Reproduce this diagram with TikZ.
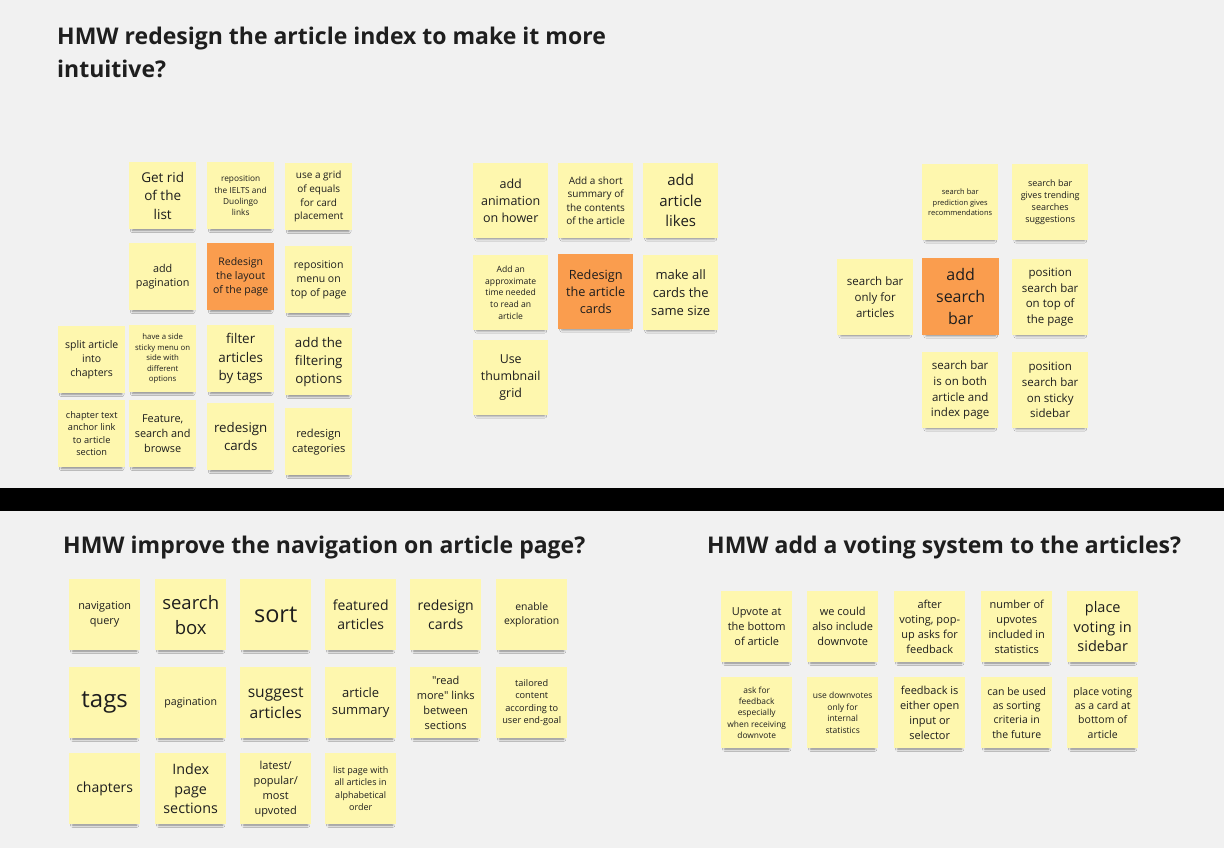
\documentclass[tikz,border=0pt]{standalone}
\usepackage{fontspec}
\setmainfont{Open Sans}[Ligatures=TeXOff]
\usetikzlibrary{shadows,shadows.blur}
\definecolor{bg}{HTML}{F1F1F1}
\definecolor{ny}{HTML}{FEF7AE}
\definecolor{no}{HTML}{FA9D4E}
\definecolor{ink}{HTML}{1E1E1E}
\tikzset{
  note/.style={anchor=north west, fill=ny, minimum width=#1, minimum height=#1,
    inner sep=1pt, align=center, text=ink,
    blur shadow={shadow xshift=0pt, shadow yshift=-5pt, shadow scale=0.9,
      shadow opacity=45, shadow blur radius=2.5pt}},
  hot/.style={fill=no},
  fz/.style={font=\fontsize{#1}{\fpeval{#1*1.36}}\selectfont},
  title/.style={text=ink, inner sep=0pt, font=\fontsize{23}{33}\selectfont\bfseries}
}
\begin{document}
\begin{tikzpicture}[x=1pt,y=-1pt]
\fill[bg] (0,0) rectangle (1224,848);
\useasboundingbox (0,0) rectangle (1224,848);
\fill[black] (0,488) rectangle (1224,511);

% titles
\node[title, anchor=north west, align=left] (t1) at (57,27) {HMW redesign the article index to make it more\\intuitive?};
\node[title, anchor=base west] (t2) at (63,553) {HMW improve the navigation on article page?};
\node[title, anchor=base west] (t3) at (707,553) {HMW add a voting system to the articles?};

% top-left cluster
\node[note=67, fz=13.5] (a1) at (129,162) {Get rid\\of the\\list};
\node[note=67, fz=8.3] (a2) at (207,162) {reposition\\the IELTS and\\Duolingo\\links};
\node[note=67, fz=10] (a3) at (285,163) {use a grid\\of equals\\for card\\placement};
\node[note=67, fz=10.8] (a4) at (129,243) {add\\pagination};
\node[note=67, hot, fz=10.5] (a5) at (207,243) {Redesign\\the layout\\of the page};
\node[note=67, fz=10.5] (a6) at (285,246) {reposition\\menu on\\top of page};
\node[note=67, fz=10.5] (a7) at (58,326) {split article\\into\\chapters};
\node[note=67, fz=7.8] (a8) at (129,325) {have a side\\sticky menu on\\side with\\different\\options};
\node[note=67, fz=13.4] (a9) at (207,325) {filter\\articles\\by tags};
\node[note=67, fz=13.3] (a10) at (285,328) {add the\\filtering\\options};
\node[note=67, fz=9.2] (a11) at (58,400) {chapter text\\anchor link\\to article\\section};
\node[note=67, fz=10.9] (a12) at (129,400) {Feature,\\search and\\browse};
\node[note=67, fz=13.3] (a13) at (207,403) {redesign\\cards};
\node[note=67, fz=11.1] (a14) at (285,408) {redesign\\categories};

% middle cluster
\node[note=75, fz=12.5] (b1) at (473,163) {add\\animation\\on hower};
\node[note=75, fz=10] (b2) at (558,163) {Add a short\\summary of\\the contents\\of the article};
\node[note=75, fz=15] (b3) at (643,163) {add\\article\\likes};
\node[note=75, fz=8.6] (b4) at (473,255) {Add an\\approximate\\time needed\\to read an\\article};
\node[note=75, hot, fz=12.7] (b5) at (558,254) {Redesign\\the article\\cards};
\node[note=75, fz=13] (b6) at (643,255) {make all\\cards the\\same size};
\node[note=75, fz=12.4] (b7) at (473,340) {Use\\thumbnail\\grid};

% right cluster
\node[note=76, fz=7.5] (c1) at (922,164) {search bar\\prediction gives\\recommendations};
\node[note=76, fz=9] (c2) at (1012,164) {search bar\\gives trending\\searches\\suggestions};
\node[note=76, fz=11.5] (c3) at (837,259) {search bar\\only for\\articles};
\node[note=77, hot, fz=16] (c4) at (922,258) {add\\search\\bar};
\node[note=76, fz=11.5] (c5) at (1012,259) {position\\search bar\\on top of\\the page};
\node[note=76, fz=11.5] (c6) at (922,352) {search bar\\is on both\\article and\\index page};
\node[note=76, fz=11.5] (c7) at (1012,352) {position\\search bar\\on sticky\\sidebar};

% bottom-left cluster
\node[note=71, fz=10.9] (d1) at (69,579) {navigation\\query};
\node[note=71, fz=18.5] (d2) at (155,579) {search\\box};
\node[note=71, fz=23.5] (d3) at (240,579) {sort};
\node[note=71, fz=14] (d4) at (325,579) {featured\\articles};
\node[note=71, fz=14] (d5) at (410,579) {redesign\\cards};
\node[note=71, fz=10.4] (d6) at (496,579) {enable\\exploration};
\node[note=71, fz=24] (d7) at (69,667) {tags};
\node[note=71, fz=10.6] (d8) at (155,667) {pagination};
\node[note=71, fz=15.6] (d9) at (240,667) {suggest\\articles};
\node[note=71, fz=13] (d10) at (325,667) {article\\summary};
\node[note=71, fz=11] (d11) at (410,667) {"read\\more" links\\between\\sections};
\node[note=71, fz=9.2] (d12) at (496,667) {tailored\\content\\according to\\user end-goal};
\node[note=71, fz=14] (d13) at (69,753) {chapters};
\node[note=71, fz=14.3] (d14) at (155,753) {Index\\page\\sections};
\node[note=71, fz=11] (d15) at (240,753) {latest/\\popular/\\most\\upvoted};
\node[note=71, fz=9] (d16) at (325,753) {list page with\\all articles in\\alphabetical\\order};

% bottom-right cluster
\node[note=71, fz=11] (e1) at (721,591) {Upvote at\\the bottom\\of article};
\node[note=71, fz=11] (e2) at (807,591) {we could\\also include\\downvote};
\node[note=71, fz=11] (e3) at (894,591) {after\\voting, pop-\\up asks for\\feedback};
\node[note=71, fz=11] (e4) at (981,591) {number of\\upvotes\\included in\\statistics};
\node[note=71, fz=14.5] (e5) at (1067,591) {place\\voting in\\sidebar};
\node[note=71, fz=8.4] (e6) at (721,677) {ask for\\feedback\\especially\\when receiving\\downvote};
\node[note=71, fz=8.5] (e7) at (807,677) {use downvotes\\only for\\internal\\statistics};
\node[note=71, fz=11] (e8) at (894,677) {feedback is\\either open\\input or\\selector};
\node[note=71, fz=10.5] (e9) at (981,677) {can be used\\as sorting\\criteria in\\the future};
\node[note=71, fz=10.5] (e10) at (1067,677) {place voting\\as a card at\\bottom of\\article};
\end{tikzpicture}
\end{document}
